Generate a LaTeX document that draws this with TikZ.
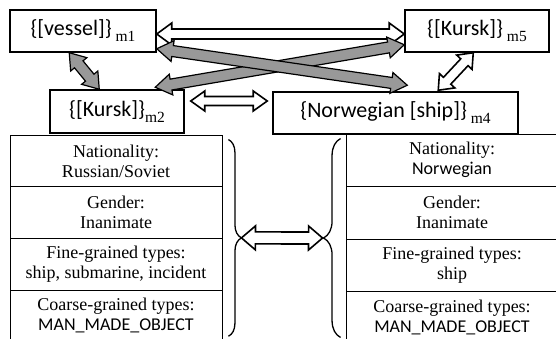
\documentclass[tikz,border=0pt]{standalone}
\usepackage{fontspec}
\setmainfont{Liberation Serif}
\newfontfamily\calib{Carlito}
\usepackage{tikz}
\usetikzlibrary{calc, positioning, decorations.pathreplacing}

% fat double-headed arrow: [style]{from}{to}{half shaft}{half head}{head length}
\newcommand{\fatarrow}[6][]{%
  \filldraw[#1] (#2)
    -- ($(#2)!#6!(#3)!#5!90:(#3)$) -- ($(#2)!#6!(#3)!#4!90:(#3)$)
    -- ($(#3)!#6!(#2)!#4!-90:(#2)$) -- ($(#3)!#6!(#2)!#5!-90:(#2)$)
    -- (#3)
    -- ($(#3)!#6!(#2)!#5!90:(#2)$) -- ($(#3)!#6!(#2)!#4!90:(#2)$)
    -- ($(#2)!#6!(#3)!#4!-90:(#3)$) -- ($(#2)!#6!(#3)!#5!-90:(#3)$)
    -- cycle;}
\newcommand{\ment}[2]{{\calib\fontsize{22}{25}\selectfont #1}\raisebox{-6pt}{\fontsize{15.5}{15.5}\selectfont #2}}

\begin{document}
\begin{tikzpicture}[x=1pt,y=-1pt,
  mbox/.style={draw,line width=1.5pt,inner sep=0,minimum height=42},
  cell/.style={draw,line width=0.9pt,inner sep=0,minimum width=212,minimum height=51.7,
    align=center,font=\fontsize{18}{20}\selectfont},
  greyarr/.style={fill=black!40,draw=black,line width=1.2pt},
  whitearr/.style={fill=white,draw=black,line width=1.6pt},
  bracestyle/.style={decorate,line width=1.3pt}]
  \useasboundingbox (0,0) rectangle (556,339);
  \clip (0,0) rectangle (556,339);

  \node [mbox,minimum width=146] (m1) at (83,31) {\ment{\{[vessel]\}}{\ m1}};
  \node [mbox,minimum width=144] (m5) at (477,31) {\ment{\{[Kursk]\}}{\ m5}};
  \node [mbox,minimum width=134,minimum height=43] (m2) at (117,111.5) {\ment{\{[Kursk]\}}{m2}};
  \node [mbox,minimum width=245] (m4) at (395.5,113) {\ment{\{Norwegian [ship]\}}{\ m4}};

  \foreach \txt [count=\i] in {{Nationality:\\Russian/Soviet},{Gender:\\Inanimate},
      {Fine-grained types:\\ship, submarine, incident},{Coarse-grained types:\\{\calib MAN\_MADE\_OBJECT}}}
    \node [cell] (l\i) at (116,{109.15+51.7*\i}) {\txt};
  \foreach \txt [count=\i] in {{Nationality:\\{\calib Norwegian}},{Gender:\\Inanimate},
      {Fine-grained types:\\ship},{Coarse-grained types:\\{\calib MAN\_MADE\_OBJECT}}}
    \node [cell,minimum height=52.5] (r\i) at (452,{107.75+52.5*\i}) {\txt};

  \coordinate (lbtop) at ([xshift=6pt,yshift=-5pt]l1.north east);
  \coordinate (lbbot) at ([xshift=6pt,yshift=6pt]l4.south east);
  \coordinate (rbtop) at ([xshift=-5pt,yshift=-5pt]r1.north west);
  \coordinate (rbbot) at ([xshift=-5pt,yshift=7pt]r4.south west);
  \draw [bracestyle,decoration={brace,amplitude=13pt}] (lbtop) -- (lbbot);
  \draw [bracestyle,decoration={brace,amplitude=17pt}] (rbbot) -- (rbtop);
  \coordinate (lbtip) at ($(lbtop)!.5!(lbbot)+(13,0)$);
  \coordinate (rbtip) at ($(rbtop)!.5!(rbbot)+(-18,0)$);

  \coordinate (a15) at ([yshift=-3pt]m1.east);
  \coordinate (b15) at ([yshift=-3pt]m5.west);
  \coordinate (a14) at ([yshift=4pt]m1.south east);
  \coordinate (b14) at ([xshift=135pt,yshift=6pt]m4.north west);
  \coordinate (a25) at ([xshift=106pt,yshift=2pt]m2.north west);
  \coordinate (b25) at ([yshift=8pt]m5.south west);
  \coordinate (a12) at ([xshift=60pt]m1.south west);
  \coordinate (b12) at ([xshift=50pt]m2.north west);
  \coordinate (a54) at ([xshift=69pt]m5.south west);
  \coordinate (b54) at ([xshift=166pt,yshift=1pt]m4.north west);
  \coordinate (a24) at ([xshift=6pt,yshift=10.5pt]m2.east);
  \coordinate (b24) at ([xshift=-5pt,yshift=12pt]m4.west);

  \fatarrow[whitearr]{a15}{b15}{5pt}{11pt}{15pt}
  \fatarrow[greyarr]{a12}{b12}{5.5pt}{10.5pt}{15pt}
  \fatarrow[greyarr]{a25}{b25}{5.5pt}{10.5pt}{16pt}
  \fatarrow[greyarr]{a14}{b14}{5.5pt}{10.5pt}{16pt}
  \fatarrow[whitearr]{a54}{b54}{5pt}{10.5pt}{13pt}
  \fatarrow[whitearr]{a24}{b24}{4.5pt}{10pt}{14pt}
  \fatarrow[whitearr]{lbtip}{rbtip}{6pt}{12pt}{14pt}
\end{tikzpicture}
\end{document}
